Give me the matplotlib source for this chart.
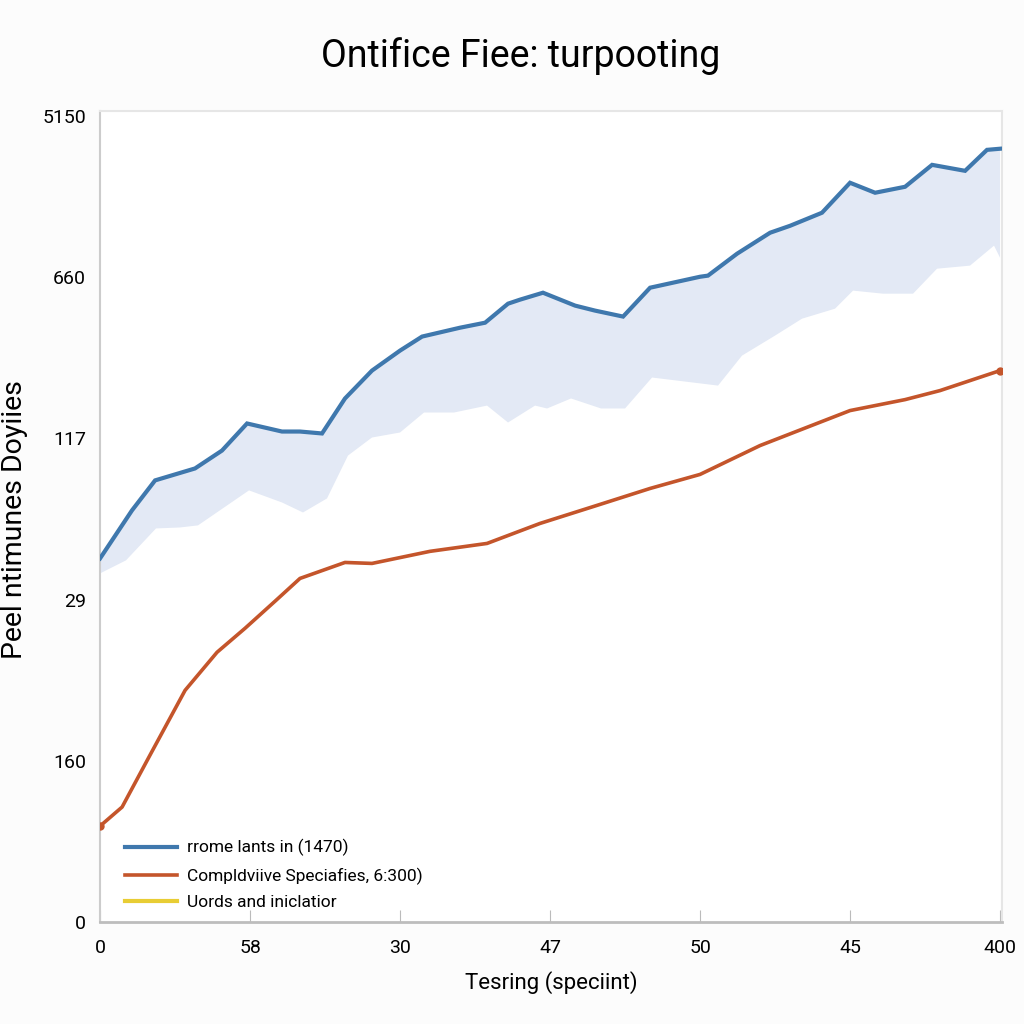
import matplotlib
matplotlib.use("Agg")
import matplotlib.pyplot as plt
import numpy as np

plt.rcParams['font.family'] = ['Roboto', 'DejaVu Sans']

# ---- data (axis units 0..6 x 0..5) ----
title = "Ontifice Fiee: turpooting"
xlabel = "Tesring (speciint)"
ylabel = "Peel ntimunes Doyiies"

xtick_labels = ["0", "58", "30", "47", "50", "45", "400"]
ytick_labels = ["0", "160", "29", "117", "660", "5150"]

legend_labels = ["rrome lants in (1470)",
                 "Compldviive Speciafies, 6:300)",
                 "Uords and iniclatior"]

blue_x = [0.00, 0.213, 0.367, 0.633, 0.813, 0.98, 1.213, 1.333, 1.48, 1.633,
          1.813, 2.0, 2.147, 2.4, 2.567, 2.72, 2.8, 2.953, 3.167, 3.3,
          3.487, 3.667, 4.0, 4.053, 4.247, 4.467, 4.6, 4.813, 5.0, 5.167,
          5.367, 5.547, 5.767, 5.913, 6.0]
blue_y = [2.255, 2.553, 2.739, 2.813, 2.924, 3.092, 3.042, 3.042, 3.030, 3.247,
          3.420, 3.544, 3.631, 3.686, 3.717, 3.835, 3.860, 3.903, 3.823, 3.792,
          3.755, 3.934, 4.002, 4.009, 4.145, 4.275, 4.318, 4.399, 4.585, 4.523,
          4.560, 4.696, 4.659, 4.789, 4.796]

band_low_x = [0.0, 0.173, 0.373, 0.533, 0.653, 0.993, 1.213, 1.353, 1.513, 1.653,
              1.813, 2.0, 2.16, 2.36, 2.58, 2.72, 2.9, 2.98, 3.14, 3.34,
              3.5, 3.68, 4.12, 4.28, 4.5, 4.68, 4.9, 5.02, 5.22, 5.42,
              5.58, 5.8, 5.96, 6.0]
band_low_y = [2.162, 2.243, 2.441, 2.447, 2.460, 2.677, 2.602, 2.540, 2.627, 2.893,
              3.005, 3.036, 3.160, 3.160, 3.203, 3.098, 3.203, 3.185, 3.247, 3.185,
              3.185, 3.377, 3.327, 3.513, 3.637, 3.742, 3.804, 3.916, 3.897, 3.897,
              4.052, 4.071, 4.195, 4.120]

orange_x = [0.0, 0.147, 0.333, 0.567, 0.78, 0.967, 1.173, 1.333, 1.633, 1.813,
            2.2, 2.58, 2.933, 3.313, 3.667, 4.0, 4.4, 5.0, 5.367, 5.6, 6.0]
orange_y = [0.595, 0.713, 1.035, 1.437, 1.673, 1.822, 1.995, 2.131, 2.230, 2.224,
            2.299, 2.348, 2.472, 2.584, 2.689, 2.776, 2.955, 3.172, 3.240, 3.296, 3.420]

BLUE = '#3f78ad'
ORANGE = '#c4552b'
YELLOW = '#e8cd34'
BAND = '#e3e9f5'

fig = plt.figure(figsize=(10.24, 10.24), dpi=100, facecolor='#fcfcfc')
ax = fig.add_axes([0.0977, 0.0996, 0.8808, 0.792])
ax.set_facecolor('white')

# banda sombreada bajo la linea azul
poly_x = np.concatenate([blue_x, band_low_x[::-1]])
poly_y = np.concatenate([blue_y, band_low_y[::-1]])
ax.fill(poly_x, poly_y, color=BAND, lw=0, zorder=1)

ax.plot(blue_x, blue_y, color=BLUE, lw=3.0, solid_joinstyle='miter', zorder=3,
        label=legend_labels[0])
ax.plot(orange_x, orange_y, color=ORANGE, lw=2.6, zorder=3, label=legend_labels[1])
ax.plot([], [], color=YELLOW, lw=3.0, label=legend_labels[2])
ax.plot(orange_x[-1], orange_y[-1], 'o', color=ORANGE, ms=5, zorder=4)
ax.plot(orange_x[0], orange_y[0], 'o', color=ORANGE, ms=5, zorder=4)

ax.set_xlim(0, 6.013)
ax.set_ylim(0, 5.03)

ax.set_xticks(range(7))
ax.set_xticklabels(xtick_labels, fontsize=14)
ax.set_yticks(range(6))
ax.set_yticklabels(ytick_labels, fontsize=14)
ax.tick_params(axis='x', direction='in', length=9, color='#bbbbbb', pad=12)
ax.tick_params(axis='y', length=0, pad=10)

for s in ['top', 'right']:
    ax.spines[s].set_color('#e6e6e6')
    ax.spines[s].set_linewidth(1.5)
ax.spines['left'].set_color('#cccccc')
ax.spines['left'].set_linewidth(1.5)
ax.spines['bottom'].set_color('#bdbdbd')
ax.spines['bottom'].set_linewidth(2)

fig.text(0.508, 0.945, title, ha='center', va='center', fontsize=27)
ax.set_xlabel(xlabel, fontsize=16, labelpad=10)
fig.text(0.014, 0.493, ylabel, rotation=90, ha='center', va='center', fontsize=20.5)

leg = ax.legend(loc='lower left', bbox_to_anchor=(0.01, -0.005), frameon=False,
                fontsize=12.5, handlelength=3.0, handletextpad=0.6,
                labelspacing=0.62)

fig.savefig('out.png', dpi=100, facecolor=fig.get_facecolor())
